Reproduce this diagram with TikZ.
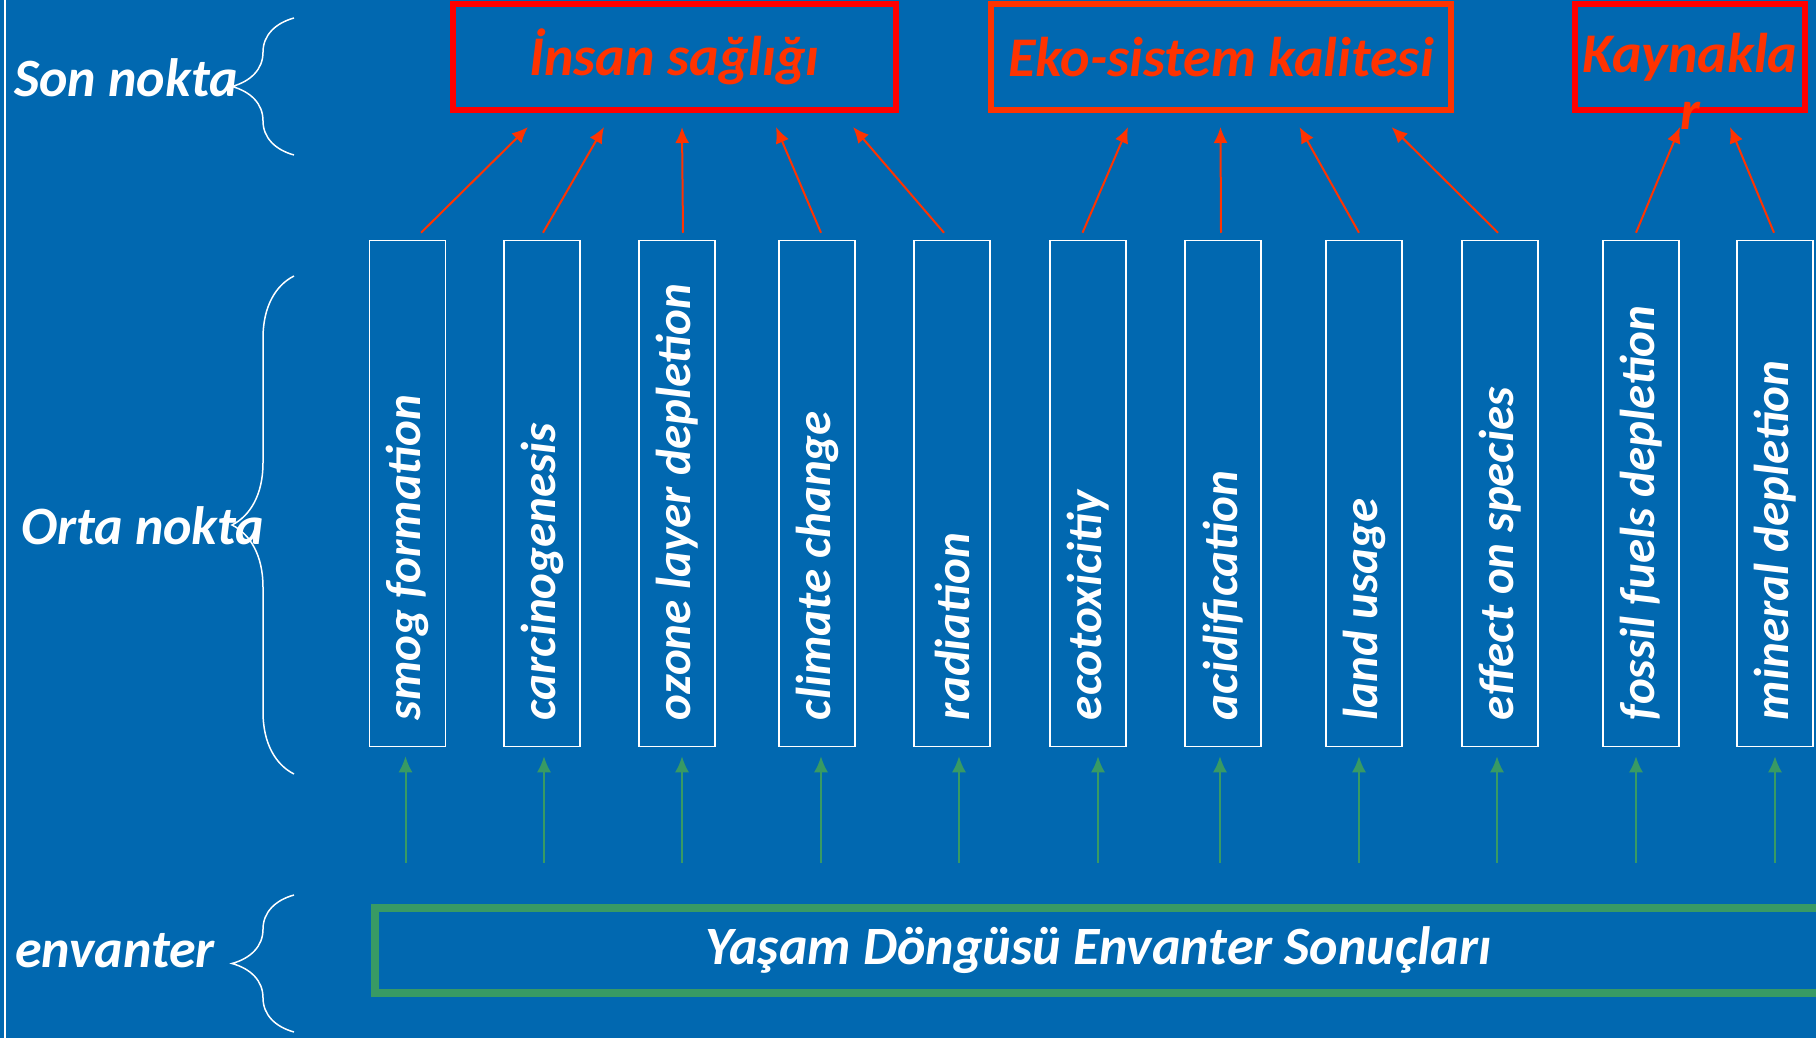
\documentclass[tikz,border=0pt]{standalone}
\usepackage{fontspec}
\setmainfont{Carlito}
\usetikzlibrary{arrows.meta, decorations.pathreplacing, calc}
\definecolor{SlideBlue}{RGB}{1,104,176}
\definecolor{EndRed}{RGB}{255,0,0}
\definecolor{EndOrange}{RGB}{255,51,0}
\definecolor{InvGreen}{RGB}{56,154,100}
\newcommand{\sidefont}{\fontsize{54}{64}\selectfont\bfseries\itshape}
\newcommand{\titlefont}{\fontsize{56}{57}\selectfont\bfseries\itshape}
\newcommand{\catfont}{\fontsize{49}{58}\selectfont\bfseries\itshape}
\tikzset{next/.style={-{Latex[length=16pt, width=14pt]}, line width=2pt}}
\tikzset{catbox/.style={draw=white, line width=1.5pt, minimum width=76pt, minimum height=506pt, inner sep=0pt}}
\tikzset{cattext/.style={rotate=90, anchor=west, text=white, font=\catfont, inner sep=0pt}}
\tikzset{titlebox/.style={draw=EndRed, line width=6pt, minimum height=106pt, text=EndOrange, font=\titlefont, inner sep=0pt}}
\tikzset{side/.style={text=white, font=\sidefont, inner sep=0pt, anchor=base west}}
\tikzset{sidebrace/.style={draw=white, line width=1.5pt, decorate, decoration={brace, amplitude=62pt}}}
% one impact category: name, x, text
\newcommand{\category}[3]{\node[catbox] (#1) at (#2,493.5) {};
  \node[cattext] (#1-t) at ([yshift=27pt]#1.south) {#3};}

\begin{document}
\begin{tikzpicture}[x=1pt, y=-1pt]
  \clip (0,0) rectangle (1816,1038);
  \fill[SlideBlue] (0,0) rectangle (1816,1038);
  \draw[white, line width=1.5pt] (5,0) -- (5,1038);

  % --- left side ---
  \node[side] (son) at (14,97) {Son nokta};
  \node[side] (orta) at (21,544) {Orta nokta};
  \node[side] (env) at (15,967) {envanter};
  \draw[sidebrace] (294,155) -- (294,18);
  \draw[sidebrace] (294,774) -- (294,276);
  \draw[sidebrace] (294,1032) -- (294,895);

  % --- end points ---
  \node[titlebox, minimum width=443pt] (health) at (674.5,57) {İnsan sağlığı};
  \node[titlebox, draw=EndOrange, minimum width=460pt] (eco) at (1221,57) {Eko-sistem kalitesi};
  \node[titlebox, minimum width=230pt] (res) at (1690,57) {Kaynakla};
  \node[text=EndOrange, font=\titlefont, inner sep=0pt, anchor=base] (res-r) at ([yshift=-57pt]res.base) {r};

  % --- mid points ---
  \category{smog}{407.5}{smog formation}
  \category{carc}{542}{carcinogenesis}
  \category{ozone}{677}{ozone layer depletion}
  \category{climate}{817}{climate change}
  \category{rad}{952}{radiation}
  \category{ecotox}{1088}{ecotoxicitiy}
  \category{acid}{1223}{acidification}
  \category{land}{1364}{land usage}
  \category{species}{1500}{effect on species}
  \category{fossil}{1641}{fossil fuels depletion}
  \category{mineral}{1775}{mineral depletion}

  \draw[next, EndOrange] ([xshift=13.5pt, yshift=7pt]smog.north) -- ([xshift=-146.5pt, yshift=-14pt]health.south);
  \draw[next, EndOrange] ([xshift=1pt, yshift=7pt]carc.north) -- ([xshift=-70.5pt, yshift=-14pt]health.south);
  \draw[next, EndOrange] ([xshift=6pt, yshift=7pt]ozone.north) -- ([xshift=7.5pt, yshift=-14pt]health.south);
  \draw[next, EndOrange] ([xshift=4pt, yshift=7pt]climate.north) -- ([xshift=101.5pt, yshift=-14pt]health.south);
  \draw[next, EndOrange] ([xshift=-8pt, yshift=7pt]rad.north) -- ([xshift=178.5pt, yshift=-14pt]health.south);

  \draw[next, EndOrange] ([xshift=-5.5pt, yshift=7pt]ecotox.north) -- ([xshift=-93pt, yshift=-14pt]eco.south);
  \draw[next, EndOrange] ([xshift=-2pt, yshift=7pt]acid.north) -- ([xshift=-0.5pt, yshift=-14pt]eco.south);
  \draw[next, EndOrange] ([xshift=-5pt, yshift=7pt]land.north) -- ([xshift=78.5pt, yshift=-14pt]eco.south);
  \draw[next, EndOrange] ([xshift=-2pt, yshift=7pt]species.north) -- ([xshift=170.5pt, yshift=-14pt]eco.south);

  \draw[next, EndOrange] ([xshift=-5pt, yshift=7pt]fossil.north) -- ([xshift=-10pt, yshift=-14pt]res.south);
  \draw[next, EndOrange] ([xshift=-1pt, yshift=7pt]mineral.north) -- ([xshift=40pt, yshift=-14pt]res.south);

  % --- inventory ---
  \node[draw=InvGreen, line width=8pt, minimum width=1447pt, minimum height=85pt,
        text=white, font=\sidefont, inner sep=0pt] (inv) at (1098.5,950.5) {Yaşam Döngüsü Envanter Sonuçları};
  \foreach \b/\dx in {smog/-2, carc/2, ozone/5, climate/4, rad/7, ecotox/10,
                      acid/-3, land/-5, species/-3, fossil/-5, mineral/0}
    \draw[next, InvGreen] ($(\b.south |- inv.north)+(\dx,-41)$) -- ([xshift=\dx pt, yshift=-9pt]\b.south);
\end{tikzpicture}
\end{document}
